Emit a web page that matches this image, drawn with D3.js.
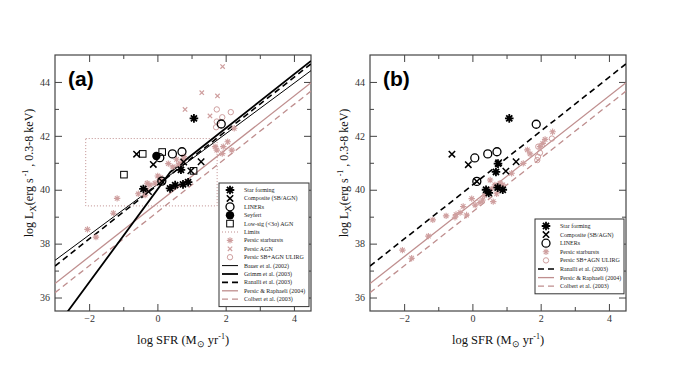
<!DOCTYPE html>
<html lang="en">
<head>
    <meta charset="UTF-8">
    <title>Lx vs SFR</title>
    <script src="https://cdn.jsdelivr.net/npm/d3@7"></script>
    <style>
        *{ margin: 0; padding: 0; }
        body{ background: #fff; }
        .tick text{ font-family: "Liberation Serif", serif; font-size: 10px; fill: #333; }
        .tick line{ stroke: #444; stroke-width: 1; }
        .lab{ font-family: "Liberation Serif", serif; fill: #111; }
        .leg text{ font-family: "Liberation Serif", serif; font-size: 6px; fill: #222; }
    </style>
</head>
<body>
<div id="content"></div>
<script>
    var width = 681, height = 366;
    var xTicks = [-2, 0, 2, 4], xMinor = [-1, 1, 3];
    var yTicks = [36, 38, 40, 42, 44], yMinor = [37, 39, 41, 43];

    // relations (endpoints)
    var bauer = [[-3, 37.38], [4.5, 44.42]];
    var grimm = [[-3, 34.84], [0.38, 40.66], [4.5, 44.78]];
    var ranalli = [[-3, 37.17], [4.5, 44.67]];
    var persicRaph = [[-3, 36.52], [4.5, 43.97]];
    var colbert = [[-3, 36.18], [4.5, 43.66]];

    // panel (a)
    var starA = [[1.07, 42.65], [0.69, 40.74], [0.37, 40.05], [0.52, 40.17], [0.75, 40.2], [0.9, 40.28], [-0.41, 40.03]];
    var compA = [[-0.61, 41.32], [-0.12, 40.94], [0.77, 41.03], [0.98, 40.7], [1.28, 41.04], [0.13, 40.32], [-0.26, 39.93]];
    var linerA = [[0.07, 41.19], [0.44, 41.33], [0.72, 41.41], [1.87, 42.44], [0.13, 40.32]];
    var seyfertA = [[-0.03, 41.25]];
    var lowSigA = [[-0.43, 41.33], [0.14, 41.4], [-0.98, 40.56], [1.06, 40.7]];
    var limitsA = [[-2.1, 39.4], [1.75, 41.9]];
    var persicSbA = [[-2.05, 38.53], [-1.8, 38.24], [-1.29, 39.13], [-1.18, 39.68], [-0.56, 39.85], [-0.36, 39.8],
        [-0.3, 40.24], [-0.22, 40.18], [-0.31, 39.99], [-0.07, 40.24], [0.01, 40.51], [0.06, 40.36], [0.1, 40.45],
        [0.32, 40.97], [0.45, 40.85], [0.56, 41.13], [0.61, 40.92], [0.66, 40.98], [0.76, 41.1], [0.78, 41.23],
        [1.69, 41.6], [1.74, 41.47], [1.93, 41.6], [2.06, 41.78], [2.18, 41.47], [1.9, 41.34], [2.25, 42.28]];
    var persicAgnA = [[1.91, 44.57], [1.3, 43.6], [1.76, 43.48], [0.81, 42.98], [1.54, 42.74]];
    var persicUlirgA = [[1.74, 42.98], [2.15, 42.88], [1.9, 42.69], [1.74, 42.53], [1.72, 42.32]];

    // panel (b)
    var starB = [[1.08, 42.65], [0.69, 40.66], [0.4, 40.0], [0.48, 39.88], [0.74, 40.08], [0.89, 40.0], [0.75, 40.97]];
    var compB = [[-0.6, 41.32], [-0.12, 40.93], [0.77, 41.0], [0.98, 40.69], [1.28, 41.04], [0.13, 40.31]];
    var linerB = [[0.07, 41.18], [0.45, 41.33], [0.72, 41.41], [1.87, 42.43], [0.13, 40.31]];
    var persicSbB = [[-2.05, 37.76], [-1.78, 37.46], [-1.29, 38.28], [-1.16, 38.88], [-0.77, 39.03], [-0.51, 38.98],
        [-0.48, 39.08], [-0.36, 39.15], [-0.27, 39.38], [-0.17, 39.06], [-0.02, 39.67], [0.08, 39.43], [0.22, 39.52],
        [0.3, 39.62], [0.35, 39.78], [0.52, 40.36], [0.55, 40.02], [0.61, 39.56], [0.66, 40.18], [0.71, 39.85],
        [0.81, 40.24], [0.89, 40.18], [1.15, 40.61], [1.49, 40.98], [1.61, 41.48], [1.69, 41.33], [1.98, 41.6],
        [2.06, 41.72], [2.13, 41.87], [2.35, 42.15]];
    var persicUlirgB = [[2.33, 41.9], [1.93, 41.6], [1.9, 41.1], [1.98, 41.37], [1.92, 41.22]];

    var pinkLine = "#bf8e8e", pinkPt = "#cf9f9f";

    var svg = d3.select("#content").append("svg")
        .attr("width", width).attr("height", height);

    /* 符号 */
    function starPath(x, y, r){
        var d = "", k = r * 0.7071;
        d += "M" + (x - r) + "," + y + "L" + (x + r) + "," + y;
        d += "M" + x + "," + (y - r) + "L" + x + "," + (y + r);
        d += "M" + (x - k) + "," + (y - k) + "L" + (x + k) + "," + (y + k);
        d += "M" + (x - k) + "," + (y + k) + "L" + (x + k) + "," + (y - k);
        return d;
    }
    function crossPath(x, y, r){
        return "M" + (x - r) + "," + (y - r) + "L" + (x + r) + "," + (y + r) +
            "M" + (x - r) + "," + (y + r) + "L" + (x + r) + "," + (y - r);
    }
    var sym = {
        star: function(g, x, y){ g.append("path").attr("d", starPath(x, y, 4.3)).attr("stroke", "#000").attr("stroke-width", 1.8); },
        comp: function(g, x, y){ g.append("path").attr("d", crossPath(x, y, 3.2)).attr("stroke", "#000").attr("stroke-width", 1.5); },
        liner: function(g, x, y){ g.append("circle").attr("cx", x).attr("cy", y).attr("r", 4).attr("fill", "none").attr("stroke", "#000").attr("stroke-width", 1.3); },
        seyfert: function(g, x, y){ g.append("circle").attr("cx", x).attr("cy", y).attr("r", 4.2).attr("fill", "#000"); },
        lowsig: function(g, x, y){ g.append("rect").attr("x", x - 3.3).attr("y", y - 3.3).attr("width", 6.6).attr("height", 6.6).attr("fill", "none").attr("stroke", "#000").attr("stroke-width", 1); },
        psb: function(g, x, y){ g.append("path").attr("d", starPath(x, y, 3.2)).attr("stroke", pinkPt).attr("stroke-width", 1.1); },
        pagn: function(g, x, y){ g.append("path").attr("d", crossPath(x, y, 2.2)).attr("stroke", pinkPt).attr("stroke-width", 1.2); },
        pulirg: function(g, x, y){ g.append("circle").attr("cx", x).attr("cy", y).attr("r", 2.7).attr("fill", "none").attr("stroke", pinkPt).attr("stroke-width", 1); }
    };
    var lineStyle = {
        bauer: {stroke: "#000", w: 1, dash: null},
        grimm: {stroke: "#000", w: 1.8, dash: null},
        ranalli: {stroke: "#000", w: 1.6, dash: "6,4"},
        persic: {stroke: pinkLine, w: 1.3, dash: null},
        colbert: {stroke: pinkLine, w: 1.3, dash: "6,4"},
        limits: {stroke: pinkLine, w: 1, dash: "1,2"}
    };

    function drawPanel(p){
        var xScale = d3.scaleLinear().domain([-3, 4.5]).range([p.left, p.left + 256]);
        var yScale = d3.scaleLinear().domain([35.5, 45]).range([311, 55]);
        var g = svg.append("g");

        var clipId = "clip" + p.name;
        svg.append("clipPath").attr("id", clipId).append("rect")
            .attr("x", p.left).attr("y", 55).attr("width", 256).attr("height", 256);

        // 坐标轴
        g.append("g").attr("transform", "translate(0,311)")
            .call(d3.axisBottom(xScale).tickValues(xTicks).tickSize(-7).tickPadding(4).tickFormat(d3.format("d")));
        g.append("g").attr("transform", "translate(0,311)")
            .call(d3.axisBottom(xScale).tickValues(xMinor).tickSize(-4).tickFormat(""));
        g.append("g").attr("transform", "translate(0,55)")
            .call(d3.axisTop(xScale).tickValues(xTicks).tickSize(-7).tickFormat(""));
        g.append("g").attr("transform", "translate(0,55)")
            .call(d3.axisTop(xScale).tickValues(xMinor).tickSize(-4).tickFormat(""));
        g.append("g").attr("transform", "translate(" + p.left + ",0)")
            .call(d3.axisLeft(yScale).tickValues(yTicks).tickSize(-7).tickPadding(5).tickFormat(d3.format("d")));
        g.append("g").attr("transform", "translate(" + p.left + ",0)")
            .call(d3.axisLeft(yScale).tickValues(yMinor).tickSize(-4).tickFormat(""));
        g.append("g").attr("transform", "translate(" + (p.left + 256) + ",0)")
            .call(d3.axisRight(yScale).tickValues(yTicks).tickSize(-7).tickFormat(""));
        g.append("g").attr("transform", "translate(" + (p.left + 256) + ",0)")
            .call(d3.axisRight(yScale).tickValues(yMinor).tickSize(-4).tickFormat(""));
        g.selectAll(".domain").remove();
        g.append("rect").attr("x", p.left).attr("y", 55).attr("width", 256).attr("height", 256)
            .attr("fill", "none").attr("stroke", "#444").attr("stroke-width", 1.2);

        // 关系线
        var line = d3.line().x(function(d){ return xScale(d[0]); }).y(function(d){ return yScale(d[1]); });
        var lg = g.append("g").attr("clip-path", "url(#" + clipId + ")");
        if (p.limits){
            lg.append("rect")
                .attr("x", xScale(p.limits[0][0])).attr("y", yScale(p.limits[1][1]))
                .attr("width", xScale(p.limits[1][0]) - xScale(p.limits[0][0]))
                .attr("height", yScale(p.limits[0][1]) - yScale(p.limits[1][1]))
                .attr("fill", "none").attr("stroke", pinkLine).attr("stroke-width", 1).attr("stroke-dasharray", "1,2");
        }
        p.lines.forEach(function(l){
            var s = lineStyle[l[0]];
            lg.append("path").attr("d", line(l[1])).attr("fill", "none")
                .attr("stroke", s.stroke).attr("stroke-width", s.w)
                .attr("stroke-dasharray", s.dash);
        });

        // 数据点
        var pg = g.append("g").attr("clip-path", "url(#" + clipId + ")");
        p.points.forEach(function(set){
            set[1].forEach(function(d){ sym[set[0]](pg, xScale(d[0]), yScale(d[1])); });
        });

        // 面板标签
        g.append("text").attr("x", p.left + 13).attr("y", 86)
            .attr("font-family", "Liberation Sans, Arial, sans-serif").attr("font-weight", "bold")
            .attr("font-size", 21).text(p.label);

        // 坐标标题
        var xl = g.append("text").attr("class", "lab").attr("font-size", 12.5)
            .attr("x", p.left + 128).attr("y", 344).attr("text-anchor", "middle");
        xl.append("tspan").text("log SFR (M");
        xl.append("tspan").attr("font-size", 9).attr("dy", 3).text("\u2299");
        xl.append("tspan").attr("dy", -3).text(" yr");
        xl.append("tspan").attr("font-size", 8).attr("dy", -5).text("-1");
        xl.append("tspan").attr("dy", 5).text(")");

        var yl = g.append("text").attr("class", "lab").attr("font-size", 12)
            .attr("text-anchor", "middle")
            .attr("transform", "translate(" + (p.left - 22) + ",173) rotate(-90)");
        yl.append("tspan").text("log L");
        yl.append("tspan").attr("font-size", 9).attr("dy", 3).text("X");
        yl.append("tspan").attr("dy", -3).text("(erg s");
        yl.append("tspan").attr("font-size", 8).attr("dy", -5).text(" -1");
        yl.append("tspan").attr("dy", 5).text(" , 0.3-8 keV)");

        // 图例
        var leg = g.append("g").attr("class", "leg");
        var lx = p.left + p.legend.x, ly = p.legend.y, step = p.legend.step;
        leg.append("rect").attr("x", lx).attr("y", ly).attr("width", p.legend.w)
            .attr("height", p.legend.items.length * step + 6)
            .attr("fill", "#fff").attr("stroke", "#333").attr("stroke-width", 1);
        p.legend.items.forEach(function(it, i){
            var cy = ly + 7 + i * step;
            if (sym[it[0]]){
                sym[it[0]](leg, lx + 11, cy);
            } else {
                var s = lineStyle[it[0]];
                leg.append("line").attr("x1", lx + 3).attr("x2", lx + 19).attr("y1", cy).attr("y2", cy)
                    .attr("stroke", s.stroke).attr("stroke-width", s.w).attr("stroke-dasharray", s.dash);
            }
            leg.append("text").attr("x", lx + 25).attr("y", cy + 2).text(it[1]);
        });
    }

    drawPanel({
        name: "a", label: "(a)", left: 55, limits: limitsA,
        lines: [["persic", persicRaph], ["colbert", colbert], ["bauer", bauer], ["grimm", grimm], ["ranalli", ranalli]],
        points: [["psb", persicSbA], ["pagn", persicAgnA], ["pulirg", persicUlirgA],
            ["lowsig", lowSigA], ["seyfert", seyfertA], ["liner", linerA], ["comp", compA], ["star", starA]],
        legend: {x: 164, y: 183, w: 90, step: 8.4, items: [
            ["star", "Star forming"], ["comp", "Composite (SB/AGN)"], ["liner", "LINERs"], ["seyfert", "Seyfert"],
            ["lowsig", "Low-sig (<3\u03C3) AGN"], ["limits", "Limits"], ["psb", "Persic starbursts"],
            ["pagn", "Persic AGN"], ["pulirg", "Persic SB+AGN ULIRG"], ["bauer", "Bauer et al. (2002)"],
            ["grimm", "Grimm et al. (2003)"], ["ranalli", "Ranalli et al. (2003)"],
            ["persic", "Persic & Raphaeli (2004)"], ["colbert", "Colbert et al. (2003)"]]}
    });

    drawPanel({
        name: "b", label: "(b)", left: 370, limits: null,
        lines: [["persic", persicRaph], ["colbert", colbert], ["ranalli", ranalli]],
        points: [["psb", persicSbB], ["pulirg", persicUlirgB], ["liner", linerB], ["comp", compB], ["star", starB]],
        legend: {x: 165, y: 219, w: 89, step: 8.6, items: [
            ["star", "Star forming"], ["comp", "Composite (SB/AGN)"], ["liner", "LINERs"],
            ["psb", "Persic starbursts"], ["pulirg", "Persic SB+AGN ULIRG"], ["ranalli", "Ranalli et al. (2003)"],
            ["persic", "Persic & Raphaeli (2004)"], ["colbert", "Colbert et al. (2003)"]]}
    });
</script>
</body>
</html>
